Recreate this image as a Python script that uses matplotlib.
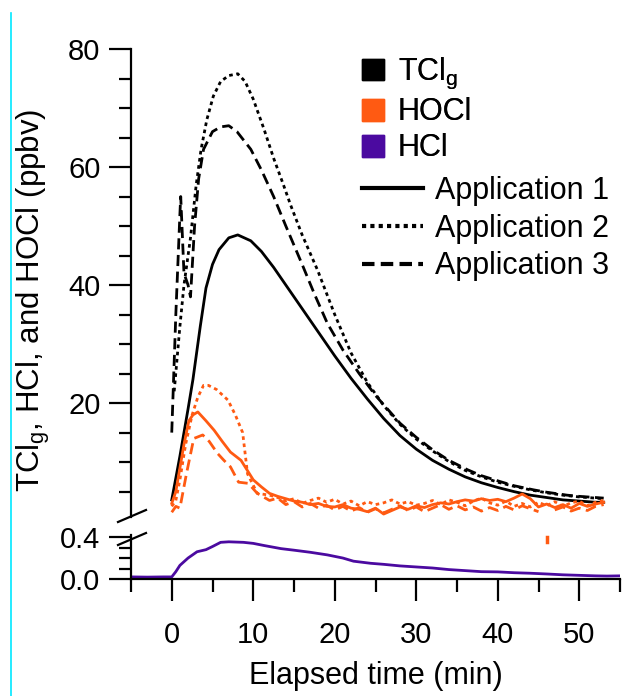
import matplotlib
matplotlib.use("Agg")
import matplotlib.pyplot as plt
import numpy as np
from matplotlib.patches import Patch
from matplotlib.lines import Line2D

plt.rcParams['font.family'] = ['Liberation Sans', 'DejaVu Sans']
plt.rcParams['mathtext.default'] = 'regular'

BLACK = '#000000'
ORANGE = '#ff5a12'
PURPLE = '#4b0aa0'

# TClg, three applications (ppbv)
tcl1_t = [0, 1, 2, 2.6, 3.5, 4.2, 5, 5.8, 7, 8.1, 9.7, 11, 12.5, 14, 15.5, 17, 18.5, 20, 22, 24, 26,
          28, 30, 32, 34, 36, 38, 40, 42, 44, 46, 48, 50, 52, 53]
tcl1_v = [3.6, 11, 19, 24, 33, 39.5, 43.5, 46, 48, 48.5, 47.5, 45.7, 43, 40, 37, 34, 31, 28, 24.2, 20.7, 17.4,
          14.5, 12.2, 10.3, 8.8, 7.5, 6.5, 5.7, 5.0, 4.4, 4.0, 3.6, 3.4, 3.2, 3.2]

tcl2_t = [0.3, 1, 1.5, 2.3, 3, 3.6, 4.3, 5.1, 6, 7, 8.1, 9, 10, 11.3, 12.5, 13.7, 14.6, 16, 17.9,
          20, 22, 24, 26, 28, 30, 32, 34, 36, 38, 40, 42, 44, 46, 48, 50, 53]
tcl2_v = [22, 33, 40, 48, 57, 63, 68, 72, 74.5, 75.5, 75.8, 74.5, 71.5, 66.5, 61.5, 57, 53.5, 48.5, 42.5,
          35, 28.5, 23.5, 19.6, 16.4, 13.9, 11.9, 10.1, 8.6, 7.5, 6.6, 5.9, 5.3, 4.8, 4.4, 4.1, 3.8]

tcl3_t = [0, 0.5, 1.0, 1.1, 1.5, 2.0, 2.3, 2.8, 3.3, 3.9, 5, 6, 7, 8, 9.7, 11, 12.5, 14, 16, 17.5,
          19.1, 21, 23, 25, 28, 30, 32, 34, 36.3, 38, 40.3, 42, 44.4, 46, 48.5, 50, 53]
tcl3_v = [15, 35, 52, 55, 42, 40, 38, 50, 58, 63, 66, 66.8, 67, 66, 63, 59.5, 55, 50, 43.5, 38.5,
          33.5, 29, 25, 21.3, 16.6, 14.2, 12.1, 10.3, 8.7, 7.7, 6.7, 6.0, 5.3, 4.9, 4.4, 4.2, 3.9]

# HOCl, three applications (ppbv)
hocl1_t = [0, 0.5, 1, 1.5, 2.1, 2.6, 3.2, 4.2, 5.2, 6.2, 7.2, 8.5, 10, 11, 12] + list(range(13, 54))
hocl1_v = [3.0, 5, 9, 13, 17, 18, 18.5, 17, 15.4, 13.5, 11.7, 10.3, 7, 5.8, 4.7,
           4.2, 3.8, 3.4, 3.2, 2.8, 3.0, 2.5, 2.4, 2.8, 2.2, 2.0, 1.6, 2.2, 1.2, 1.8, 2.4, 2.0, 2.6,
           2.3, 2.8, 3.1, 2.9, 3.3, 3.6, 3.4, 3.8, 3.5, 3.7, 3.3, 3.9, 4.6, 3.8, 2.4, 2.9, 2.3, 2.8,
           2.2, 3.0, 2.5, 2.9, 3.2]

hocl2_t = [0, 0.5, 1, 1.7, 2.5, 3.2, 3.9, 4.5, 5.5, 6.9, 7.8, 8.7, 9.3, 10.5] + list(range(11, 54))
hocl2_v = [2.5, 3.5, 7, 13, 18, 21, 23, 23, 22.3, 20.5, 18, 15, 8, 4.7,
           4.6, 4.4, 4.0, 3.4, 3.8, 3.0, 3.5, 3.9, 3.2, 3.7, 2.9, 3.4, 2.6, 3.3, 2.8, 3.1, 3.6, 2.9,
           3.3, 2.7, 3.0, 3.5, 2.8, 3.6, 3.2, 2.6, 3.4, 3.9, 3.1, 2.7, 3.4, 2.5, 3.0, 2.4, 3.2, 2.6,
           3.3, 2.5, 3.1, 3.4, 2.6, 3.2, 3.5]

hocl3_t = [0, 0.5, 1, 1.8, 2.7, 3.8, 4.6, 5.6, 6.4, 7.2, 8.2, 9.4, 10.5] + list(range(11, 54))
hocl3_v = [1.5, 2.5, 2.2, 8, 14, 14.6, 13.5, 11.5, 10.3, 9.2, 6.6, 6.4, 4.7,
           4.3, 3.5, 3.9, 2.8, 3.3, 2.4, 3.0, 2.2, 2.7, 1.9, 2.5, 1.7, 2.3, 1.5, 2.1, 1.4, 2.0, 2.6,
           1.8, 2.4, 1.6, 2.2, 2.8, 2.0, 2.6, 1.9, 2.4, 1.7, 2.3, 1.8, 2.5, 1.9, 2.6, 2.1, 1.6,
           np.nan, 1.9, 2.4, 1.7, 2.2, 1.8, 2.5, 2.8]
hocl3_low_t = [46.0, 46.0]
hocl3_low_v = [0.355, 0.4]

# HCl (ppbv)
hcl_t = [-5, -3, -1, 0, 0.5, 1, 2, 3.1, 4.2, 5, 6, 7, 8.8, 10, 11.3, 13.4, 15, 17, 19.1, 21, 22.3,
         24.4, 26, 28, 30, 32, 34, 36, 38, 40, 42, 44, 46, 48, 50, 52, 53.4, 55]
hcl_v = [0.02, 0.018, 0.02, 0.02, 0.07, 0.13, 0.2, 0.26, 0.28, 0.31, 0.35, 0.355, 0.35, 0.34,
         0.32, 0.29, 0.275, 0.255, 0.23, 0.2, 0.17, 0.15, 0.14, 0.125, 0.115, 0.105, 0.09, 0.08,
         0.07, 0.068, 0.06, 0.055, 0.048, 0.04, 0.035, 0.03, 0.028, 0.03]

xticks = [0, 10, 20, 30, 40, 50]

W, H = 625, 696
fig = plt.figure(figsize=(W / 100, H / 100), dpi=100)
ax1 = fig.add_axes([131 / W, 179 / H, 489 / W, 468 / H])
ax2 = fig.add_axes([131 / W, 117 / H, 489 / W, 44 / H], sharex=ax1)

dot = (0, (1.3, 1.3))
dash = (0, (4, 2))
lw = 2.0

ax1.plot(tcl1_t, tcl1_v, color=BLACK, lw=lw, ls='-')
ax1.plot(tcl2_t, tcl2_v, color=BLACK, lw=lw, ls=dot)
ax1.plot(tcl3_t, tcl3_v, color=BLACK, lw=lw, ls=dash)
ax1.plot(hocl1_t, hocl1_v, color=ORANGE, lw=lw, ls='-')
ax1.plot(hocl2_t, hocl2_v, color=ORANGE, lw=lw, ls=dot)
ax1.plot(hocl3_t, hocl3_v, color=ORANGE, lw=lw, ls=dash)
ax2.plot(hcl_t, hcl_v, color=PURPLE, lw=lw)
ax2.plot(hocl3_low_t, hocl3_low_v, color=ORANGE, lw=2.5)

ax1.set_xlim(-5, 55)
ax1.set_ylim(0.7, 80)
ax2.set_ylim(0, 0.42)

for ax in (ax1, ax2):
    ax.spines['top'].set_visible(False)
    ax.spines['right'].set_visible(False)
    ax.spines['left'].set_linewidth(1.6)
    ax.spines['bottom'].set_linewidth(1.6)
    ax.tick_params(which='major', direction='out', length=16, width=1.6, labelsize=21, pad=6)
    ax.tick_params(which='minor', direction='out', length=9, width=1.6)

ax1.spines['bottom'].set_visible(False)
ax1.tick_params(axis='x', which='both', bottom=False, labelbottom=False)
ax1.set_yticks([20, 40, 60, 80])
ax1.set_yticks(np.arange(5, 80, 5), minor=True)

ax2.set_yticks([0.0, 0.4])
ax2.set_yticklabels(['0.0', '0.4'])
ax2.set_yticks([0.1, 0.2, 0.3], minor=True)
ax2.set_xticks(xticks)
ax2.set_xticks([-5, 5, 15, 25, 35, 45, 55], minor=True)
ax2.tick_params(axis='x', which='major', pad=14)
ax2.set_xlabel('Elapsed time (min)', fontsize=22, labelpad=9)

# axis break marks
for y0, y1 in [(522, 510), (545, 533)]:
    fig.add_artist(Line2D([118 / W, 146 / W], [1 - y0 / H, 1 - y1 / H], color=BLACK, lw=1.6))

fig.text(33 / W, 1 - 300 / H, 'TCl$_g$, HCl, and HOCl (ppbv)', rotation=90,
         ha='center', va='center', fontsize=22.5)

# stray cyan guide line at the left edge
fig.add_artist(Line2D([10.5 / W, 10.5 / W], [0, 1 - 13 / H], color='#00e8ff', lw=1.2))

species = [Patch(color=BLACK), Patch(color=ORANGE), Patch(color=PURPLE)]
leg1 = fig.legend(species, ['TCl$_g$', 'HOCl', 'HCl'], loc='upper left',
                  bbox_to_anchor=(362 / W, 1 - 56 / H), frameon=False, fontsize=22,
                  handlelength=0.72, handleheight=0.72, handletextpad=0.45,
                  labelspacing=0.2, borderpad=0, borderaxespad=0)
apps = [Line2D([], [], color=BLACK, lw=3, ls='-'),
        Line2D([], [], color=BLACK, lw=3, ls=(0, (1, 1))),
        Line2D([], [], color=BLACK, lw=3, ls=(0, (3, 1.5)))]
leg2 = fig.legend(apps, ['Application 1', 'Application 2', 'Application 3'], loc='upper left',
                  bbox_to_anchor=(362 / W, 1 - 176 / H), frameon=False, fontsize=22,
                  handlelength=2.0, handletextpad=0.4, labelspacing=0.25,
                  borderpad=0, borderaxespad=0)
fig.add_artist(leg1)

fig.savefig('out.png', dpi=100)
